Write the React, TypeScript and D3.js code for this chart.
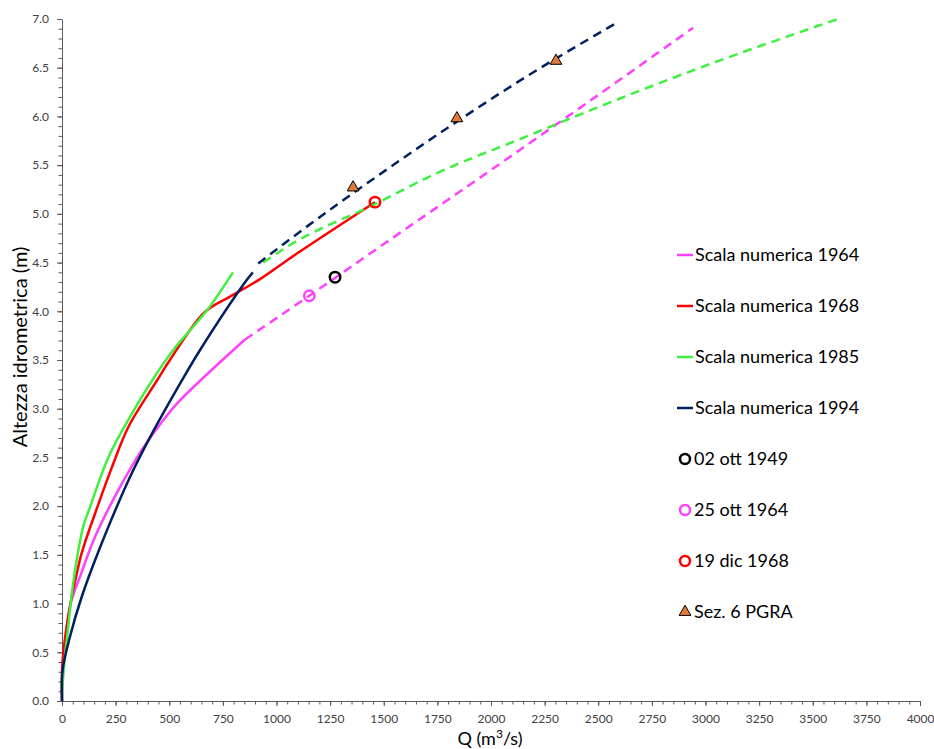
import React, { useEffect, useRef } from "react";
import * as d3 from "d3";

// Rating curves: discharge Q (m³/s) vs stage h (m)
const q1964 = [0, 3, 37, 88, 155, 264, 373, 451, 535, 853];
const h1964 = [0, 0.2, 0.97, 1.3, 1.69, 2.17, 2.58, 2.82, 3.05, 3.71];
const q1964Ext = [853, 1153, 1500, 2000, 2500, 2942];
const h1964Ext = [3.71, 4.16, 4.69, 5.45, 6.22, 6.91];

const q1968 = [0, 3, 45, 62, 92, 155, 233, 311, 443, 503, 665, 783, 923, 1100, 1459];
const h1968 = [0, 0.42, 1.07, 1.24, 1.52, 1.93, 2.4, 2.82, 3.29, 3.5, 3.99, 4.15, 4.33, 4.6, 5.12];

const q1985 = [0, 6, 29, 54, 99, 124, 218, 326, 420, 518, 676, 797];
const h1985 = [0, 0.28, 0.76, 1.24, 1.79, 1.95, 2.51, 2.95, 3.29, 3.6, 4.01, 4.4];
const q1985Ext = [938, 1063, 1459, 1730, 2149, 2494, 2914, 3618];
const h1985Ext = [4.5, 4.68, 5.1, 5.4, 5.78, 6.09, 6.45, 7.0];

const q1994 = [0, 3, 37, 92, 169, 311, 404, 559, 643, 861, 890];
const h1994 = [0, 0.32, 0.66, 1.07, 1.53, 2.27, 2.68, 3.29, 3.6, 4.32, 4.4];
const q1994Ext = [915, 1063, 1576, 2166, 2593];
const h1994Ext = [4.49, 4.74, 5.55, 6.41, 6.97];

// Observed flood events
const eventLabels = ["02 ott 1949", "25 ott 1964", "19 dic 1968"];
const eventQ = [1273, 1153, 1459];
const eventH = [4.35, 4.16, 5.12];

// PGRA section 6 points
const pgraQ = [1357, 1841, 2303];
const pgraH = [5.27, 5.98, 6.57];

const seriesLabels = [
  "Scala numerica 1964",
  "Scala numerica 1968",
  "Scala numerica 1985",
  "Scala numerica 1994",
];
const pgraLabel = "Sez. 6 PGRA";

const C1964 = "#ff40ff";
const C1968 = "#ff0000";
const C1985 = "#40f040";
const C1994 = "#002060";
const C1949 = "#000000";
const CPGRA = "#e07b39";

const FONT = "Lato, 'Open Sans', sans-serif";

export default function App() {
  const ref = useRef<SVGSVGElement>(null);

  useEffect(() => {
    const svg = d3.select(ref.current);
    svg.selectAll("*").remove();

    const x = d3.scaleLinear().domain([0, 4000]).range([62, 920]);
    const y = d3.scaleLinear().domain([0, 7]).range([701, 19]);

    // Axes: minor ticks first, then major ticks with labels
    const xMinor = svg
      .append("g")
      .attr("transform", `translate(0,${y(0)})`)
      .call(d3.axisBottom(x).tickValues(d3.range(0, 4001, 50)).tickSize(3.5).tickFormat(() => ""));
    xMinor.select(".domain").remove();
    const yMinor = svg
      .append("g")
      .attr("transform", `translate(${x(0)},0)`)
      .call(d3.axisLeft(y).tickValues(d3.range(0, 71).map((d) => d / 10)).tickSize(3.5).tickFormat(() => ""));
    yMinor.select(".domain").remove();

    const xAxis = svg
      .append("g")
      .attr("transform", `translate(0,${y(0)})`)
      .call(
        d3
          .axisBottom(x)
          .tickValues(d3.range(0, 4001, 250))
          .tickSize(5)
          .tickPadding(8)
          .tickSizeOuter(0)
          .tickFormat((d) => String(d))
      );
    const yAxis = svg
      .append("g")
      .attr("transform", `translate(${x(0)},0)`)
      .call(
        d3
          .axisLeft(y)
          .tickValues(d3.range(0, 15).map((d) => d / 2))
          .tickSize(5)
          .tickPadding(8)
          .tickSizeOuter(0)
          .tickFormat(d3.format(".1f") as any)
      );

    [xAxis, yAxis, xMinor, yMinor].forEach((g) => {
      g.selectAll("path,line").attr("stroke", "#595959").attr("stroke-width", 1);
      g.selectAll("text")
        .attr("fill", "#404040")
        .style("font-family", FONT)
        .style("font-size", "12px");
    });
    // keep the last x label inside the frame
    xAxis
      .selectAll<SVGTextElement, number>("text")
      .filter((d) => d === 4000)
      .attr("text-anchor", "end")
      .attr("dx", 14);

    const zip = (qs: number[], hs: number[]) => qs.map((q, i) => [q, hs[i]] as [number, number]);

    const drawSeries = (qs: number[], hs: number[], color: string, dashed: boolean) => {
      const gen = d3
        .line<[number, number]>()
        .x((d) => x(d[0]))
        .y((d) => y(d[1]))
        .curve(dashed ? d3.curveMonotoneX : d3.curveCatmullRom.alpha(0.5));
      svg
        .append("path")
        .datum(zip(qs, hs))
        .attr("d", gen as any)
        .attr("fill", "none")
        .attr("stroke", color)
        .attr("stroke-width", 2.5)
        .attr("stroke-dasharray", dashed ? "9,6" : null)
        .attr("stroke-linejoin", "round");
    };

    drawSeries(q1964, h1964, C1964, false);
    drawSeries(q1964Ext, h1964Ext, C1964, true);
    drawSeries(q1968, h1968, C1968, false);
    drawSeries(q1985, h1985, C1985, false);
    drawSeries(q1985Ext, h1985Ext, C1985, true);
    drawSeries(q1994, h1994, C1994, false);
    drawSeries(q1994Ext, h1994Ext, C1994, true);

    const eventColors = [C1949, C1964, C1968];
    eventQ.forEach((q, i) => {
      svg
        .append("circle")
        .attr("cx", x(q))
        .attr("cy", y(eventH[i]))
        .attr("r", 5.2)
        .attr("fill", "none")
        .attr("stroke", eventColors[i])
        .attr("stroke-width", 2.5);
    });

    const tri = d3.symbol().type(d3.symbolTriangle).size(60);
    pgraQ.forEach((q, i) => {
      svg
        .append("path")
        .attr("d", tri() as string)
        .attr("transform", `translate(${x(q)},${y(pgraH[i])})`)
        .attr("fill", CPGRA)
        .attr("stroke", "#000")
        .attr("stroke-width", 1);
    });

    // Legend
    const lg = svg.append("g");
    const rowY = (i: number) => 255 + i * 51;
    const lineColors = [C1964, C1968, C1985, C1994];
    const addText = (i: number, x0: number, label: string) =>
      lg
        .append("text")
        .attr("x", x0)
        .attr("y", rowY(i))
        .attr("dy", "0.35em")
        .attr("fill", "#000")
        .style("font-family", FONT)
        .style("font-size", "18px")
        .text(label);
    seriesLabels.forEach((label, i) => {
      lg.append("line")
        .attr("x1", 677)
        .attr("x2", 693)
        .attr("y1", rowY(i))
        .attr("y2", rowY(i))
        .attr("stroke", lineColors[i])
        .attr("stroke-width", 2.5);
      addText(i, 695, label);
    });
    eventLabels.forEach((label, j) => {
      const i = j + 4;
      lg.append("circle")
        .attr("cx", 685)
        .attr("cy", rowY(i))
        .attr("r", 5)
        .attr("fill", "none")
        .attr("stroke", eventColors[j])
        .attr("stroke-width", 2.5);
      addText(i, 694, label);
    });
    lg.append("path")
      .attr("d", tri() as string)
      .attr("transform", `translate(685,${rowY(7)})`)
      .attr("fill", CPGRA)
      .attr("stroke", "#000")
      .attr("stroke-width", 1);
    addText(7, 694, pgraLabel);

    // Axis titles
    svg
      .append("text")
      .attr("transform", `translate(27,347) rotate(-90)`)
      .attr("text-anchor", "middle")
      .attr("fill", "#000")
      .style("font-family", FONT)
      .style("font-size", "20px")
      .text("Altezza idrometrica (m)");

    const xt = svg
      .append("text")
      .attr("x", 490)
      .attr("y", 745)
      .attr("text-anchor", "middle")
      .attr("fill", "#000")
      .style("font-family", FONT)
      .style("font-size", "18px");
    xt.append("tspan").text("Q (m");
    xt.append("tspan").attr("dy", -7).style("font-size", "12px").text("3");
    xt.append("tspan").attr("dy", 7).text("/s)");
  }, []);

  return (
    <div style={{ position: "absolute", left: 0, top: 0 }}>
      <svg ref={ref} width={934} height={749} style={{ display: "block", background: "#fff" }} />
    </div>
  );
}
